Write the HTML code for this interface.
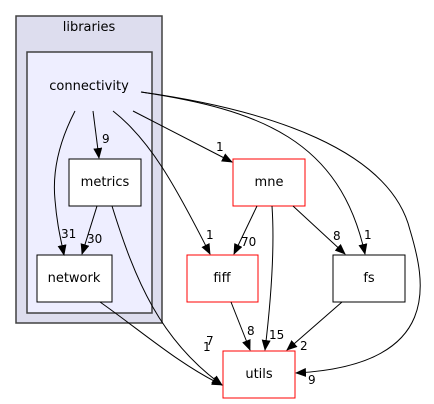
<!DOCTYPE html>
<html><head><meta charset="utf-8"><style>
html,body{margin:0;padding:0;background:#fff;}
svg{display:block;}
text{font-family:"DejaVu Sans","Liberation Sans",sans-serif;font-size:13px;fill:#000;}
text.e{font-size:12px;}
</style></head><body>
<svg width="434" height="404" viewBox="0 0 434 404" xmlns="http://www.w3.org/2000/svg">
<defs>
<marker id="a" markerWidth="11" markerHeight="9" refX="10" refY="4.5" orient="auto" markerUnits="userSpaceOnUse">
<path d="M0,0 L11,4.5 L0,9 z" fill="#000"/>
</marker>
</defs>
<rect x="16" y="16" width="146" height="307" fill="#ddddee" stroke="#404040" stroke-width="1.5"/>
<text x="89" y="31" text-anchor="middle">libraries</text>
<rect x="27" y="52" width="125" height="261" fill="#eeeeff" stroke="#404040" stroke-width="1.5"/>
<text x="89" y="90" text-anchor="middle">connectivity</text>

<rect x="69" y="159" width="72" height="47" fill="#fff" stroke="#000"/>
<text x="105" y="186" text-anchor="middle">metrics</text>
<rect x="37" y="255" width="75" height="47" fill="#fff" stroke="#000"/>
<text x="74" y="282" text-anchor="middle">network</text>
<rect x="233" y="159" width="72" height="47" fill="#fff" stroke="#ff0000"/>
<text x="269" y="186" text-anchor="middle">mne</text>
<rect x="187" y="255" width="71" height="47" fill="#fff" stroke="#ff0000"/>
<text x="222" y="282" text-anchor="middle">fiff</text>
<rect x="333" y="255" width="72" height="47" fill="#fff" stroke="#000"/>
<text x="369" y="282" text-anchor="middle">fs</text>
<rect x="223" y="351" width="72" height="47" fill="#fff" stroke="#ff0000"/>
<text x="259" y="378" text-anchor="middle">utils</text>

<g fill="none" stroke="#000" stroke-width="1" marker-end="url(#a)">
<path d="M75,111 C60,140 52,170 55,200 C57,225 61,240 64,255"/>
<path d="M93,111 L99,158"/>
<path d="M113,111 C150,140 175,185 210,254"/>
<path d="M133,111 L232,162"/>
<path d="M141,92 C260,110 340,140 365,254"/>
<path d="M141,92 C270,110 390,150 410,230 C425,280 445,365 296,373"/>
<path d="M97,206 L82,254"/>
<path d="M112,206 C135,280 160,340 222,385"/>
<path d="M100,302 C140,330 180,365 222,385"/>
<path d="M257,206 L234,254"/>
<path d="M272,206 C275,250 271,300 265,350"/>
<path d="M293,206 L345,254"/>
<path d="M231,302 L250,350"/>
<path d="M342,302 L287,350"/>
</g>
<text class="e" x="61" y="238">31</text>
<text class="e" x="102" y="143">9</text>
<text class="e" x="206" y="239">1</text>
<text class="e" x="216" y="151">1</text>
<text class="e" x="364" y="239">1</text>
<text class="e" x="308" y="384">9</text>
<text class="e" x="87" y="243">30</text>
<text class="e" x="206" y="345">7</text>
<text class="e" x="203" y="351">1</text>
<text class="e" x="241" y="246">70</text>
<text class="e" x="269" y="339">15</text>
<text class="e" x="333" y="240">8</text>
<text class="e" x="247" y="335">8</text>
<text class="e" x="300" y="350">2</text>
</svg>
</body></html>
